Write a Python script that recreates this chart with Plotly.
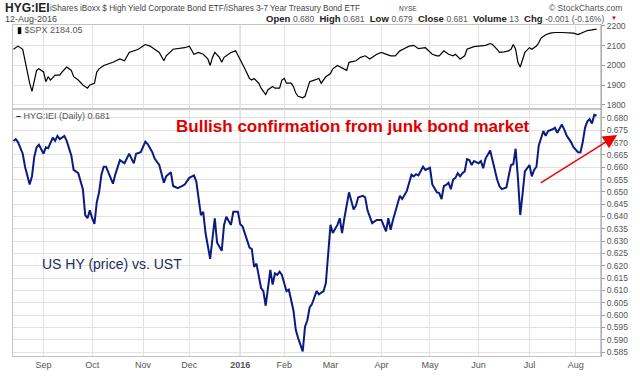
import plotly.graph_objects as go

# ---- data (trading-day index from 13-Aug-2015) ----
hyg_day = [0,1,2,4,5,7,8,9,10,11,13,14,15,17,18,19,20,22,23,25,26,28,30,31,32,33,34,35,36,37,38,39,40,43,44,46,48,50,51,52,53,55,57,58,60,61,63,65,66,68,69,71,73,74,76,78,79,80,81,82,83,85,87,88,90,91,92,94,95,97,98,99,102,103,104,105,107,108,109,110,111,112,113,114,115,116,118,119,120,121,122,123,125,126,127,128,129,131,132,134,135,136,137,138,140,141,142,143,145,147,148,149,151,152,153,155,157,159,161,162,163,164,165,167,168,170,172,173,174,175,177,178,180,181,183,184,185,186,187,188,189,190,191,192,193,194,195,196,197,198,199,201,202,203,204,206,207,209,210,211,213,214,215,216,217,218,219,220,221,223,224,225,226,227,228,229,230,231,233,234,235,236,237,238,239,241,242,244,245,246,247,248,249,250,251,252]
hyg_val = [0.6707,0.6714,0.6701,0.6655,0.6602,0.6530,0.6563,0.6642,0.6681,0.6691,0.6655,0.6681,0.6677,0.6720,0.6707,0.6727,0.6714,0.6727,0.6707,0.6648,0.6589,0.6576,0.6511,0.6406,0.6393,0.6425,0.6393,0.6370,0.6458,0.6498,0.6570,0.6602,0.6602,0.6533,0.6570,0.6629,0.6616,0.6655,0.6635,0.6616,0.6655,0.6661,0.6704,0.6694,0.6661,0.6635,0.6609,0.6537,0.6563,0.6580,0.6524,0.6515,0.6524,0.6530,0.6557,0.6567,0.6543,0.6478,0.6406,0.6419,0.6333,0.6228,0.6393,0.6294,0.6261,0.6366,0.6399,0.6366,0.6419,0.6419,0.6369,0.6360,0.6274,0.6268,0.6196,0.6209,0.6110,0.6097,0.6038,0.6110,0.6183,0.6124,0.6169,0.6163,0.6176,0.6163,0.6097,0.6103,0.6065,0.6019,0.5940,0.5907,0.5853,0.5953,0.5979,0.6031,0.6045,0.6097,0.6084,0.6097,0.6130,0.6242,0.6366,0.6333,0.6366,0.6393,0.6333,0.6393,0.6498,0.6428,0.6445,0.6478,0.6484,0.6478,0.6425,0.6373,0.6386,0.6386,0.6340,0.6393,0.6346,0.6386,0.6419,0.6484,0.6471,0.6504,0.6570,0.6563,0.6572,0.6567,0.6602,0.6589,0.6598,0.6530,0.6498,0.6495,0.6471,0.6524,0.6528,0.6537,0.6511,0.6550,0.6557,0.6576,0.6563,0.6576,0.6583,0.6633,0.6629,0.6609,0.6625,0.6616,0.6625,0.6596,0.6635,0.6668,0.6629,0.6550,0.6524,0.6511,0.6518,0.6563,0.6609,0.6612,0.6675,0.6557,0.6406,0.6491,0.6583,0.6609,0.6563,0.6589,0.6602,0.6688,0.6714,0.6747,0.6727,0.6747,0.6754,0.6760,0.6740,0.6754,0.6773,0.6754,0.6730,0.6701,0.6681,0.6661,0.6660,0.6701,0.6760,0.6786,0.6795,0.6777,0.6813,0.6810]

spx_day = [0,2,4,5,6,7,8,9,10,11,13,14,15,16,18,20,21,23,25,26,28,30,32,33,35,36,37,39,41,43,46,48,50,52,54,56,57,59,61,63,65,66,69,71,74,76,78,80,82,84,85,86,87,89,90,91,93,94,96,97,99,100,102,103,104,106,107,109,110,112,113,115,116,117,118,120,121,122,123,125,126,127,128,130,132,133,135,137,138,140,143,144,145,148,150,152,154,155,157,159,161,163,165,167,169,171,173,175,178,180,181,183,184,186,188,190,191,193,195,196,199,201,204,206,207,209,210,212,214,215,216,217,218,219,220,221,223,224,226,227,228,230,232,234,237,240,242,244,246,248,250,252]
spx_val = [2082,2098,2082,2024,1967,1910,1869,1926,1975,1983,1967,1918,1943,1926,1951,1951,1967,1992,1975,1943,1926,1901,1885,1901,1910,1967,1983,2000,2008,2016,2033,2024,2066,2074,2082,2098,2106,2098,2082,2066,2024,2049,2082,2085,2090,2098,2057,2066,2057,2033,2000,2041,2066,2041,2016,2041,2057,2066,2074,2049,2000,1983,1934,1926,1934,1910,1885,1852,1877,1893,1885,1885,1926,1934,1910,1910,1893,1860,1844,1836,1844,1885,1918,1926,1934,1910,1943,1959,1983,2000,1983,1975,2016,2024,2041,2049,2033,2041,2057,2066,2057,2049,2049,2074,2086,2098,2102,2085,2090,2066,2057,2049,2049,2074,2057,2049,2057,2033,2049,2082,2095,2098,2102,2111,2106,2082,2066,2069,2074,2082,2106,2082,2016,1992,2024,2066,2090,2082,2098,2115,2139,2156,2164,2167,2167,2167,2164,2156,2167,2177,2180,2184]

month_day = [13, 34, 56, 76, 98, 117, 137, 159, 180, 201, 223, 243]
month_lbl = ["Sep", "Oct", "Nov", "Dec", "<b>2016</b>", "Feb", "Mar", "Apr", "May", "Jun", "Jul", "Aug"]
spx_ticks = [1800, 1900, 2000, 2100, 2200]

# ---- layout helpers (pixel -> paper) ----
L, R, T, B = 12, 602, 25, 366
def px(x):
    return (x - L) / (R - L)
def py(y):
    return (B - y) / (B - T)

FONT = "Arial, Liberation Sans, sans-serif"
GRID = "#e2e2e2"
XR = [-0.2, 253.9]

fig = go.Figure()
fig.add_trace(go.Scatter(x=spx_day, y=spx_val, mode="lines", xaxis="x", yaxis="y",
                         line=dict(color="#000000", width=1.2), hoverinfo="skip"))
fig.add_trace(go.Scatter(x=hyg_day, y=hyg_val, mode="lines", xaxis="x2", yaxis="y2",
                         line=dict(color="#0d1a80", width=2), hoverinfo="skip"))

axis_common = dict(showgrid=True, gridcolor=GRID, gridwidth=1, zeroline=False,
                   showline=True, linecolor="#c4c4c4", mirror=True)
TICKFONT = dict(family=FONT, size=8.5, color="#555")

fig.update_layout(
    width=640, height=382,
    margin=dict(l=L, r=640 - R, t=T, b=382 - B),
    paper_bgcolor="white", plot_bgcolor="white",
    showlegend=False,
    font=dict(family=FONT, size=10, color="#555"),
    xaxis=dict(domain=[0, 1], anchor="y", range=XR, tickvals=month_day, showticklabels=False,
               ticks="", **axis_common),
    yaxis=dict(domain=[0.746, 1], anchor="x", range=[1779, 2205], side="right",
               tickvals=spx_ticks, ticks="outside", ticklen=3, tickcolor="#999",
               tickfont=TICKFONT, **axis_common),
    xaxis2=dict(domain=[0, 1], anchor="y2", range=XR, tickvals=month_day, ticktext=month_lbl,
                ticks="", tickfont=dict(family=FONT, size=9, color="#555"), **axis_common),
    yaxis2=dict(domain=[0, 0.746], anchor="x2", range=[0.5834, 0.6836], side="right",
                dtick=0.005, tick0=0.585, tickformat=".3f", ticks="outside", ticklen=3,
                tickcolor="#999", tickfont=TICKFONT, **axis_common),
)

# darker year line
fig.add_shape(type="line", xref="x", yref="paper", x0=98, x1=98, y0=0, y1=1,
              line=dict(color="#a8a8a8", width=1), layer="below")
# right axis line darker
fig.add_shape(type="line", xref="paper", yref="paper", x0=1, x1=1, y0=0, y1=1,
              line=dict(color="#9a9a9a", width=1))

ann = []
def text(x, y, s, size=10, color="#555", anchor="left", **kw):
    ann.append(dict(xref="paper", yref="paper", x=px(x), y=py(y), text=s, showarrow=False,
                    xanchor=anchor, yanchor="middle", font=dict(family=FONT, size=size, color=color), **kw))

V = "<span style='font-size:8.5px;font-weight:normal;color:#555'>%s</span>"
# header
text(2, 7.5, "<b>HYG:IEI</b>", size=12, color="#222")
text(47, 8, "iShares iBoxx $ High Yield Corporate Bond ETF/iShares 3-7 Year Treasury Bond ETF", size=8.2, color="#444")
text(397, 8.5, "NYSE", size=6.5, color="#444")
text(625, 8, "© StockCharts.com", size=8.5, color="#555", anchor="right")
text(2, 18.5, "12-Aug-2016", size=9, color="#444")
text(607, 18.5, "<b>Open</b> " + V % "0.680" + "  <b>High</b> " + V % "0.681" + "  <b>Low</b> " + V % "0.679"
              + "  <b>Close</b> " + V % "0.681" + "  <b>Volume</b> " + V % "13" + "  <b>Chg</b> " + V % "-0.001 (-0.16%)",
     size=9.5, color="#222", anchor="right")
text(610, 17.5, "▼", size=6, color="#cc0000")

# panel legends
text(14, 30.5, "<span style='color:#000'>▮</span> $SPX 2184.05", size=9, color="#555")
text(13, 118.5, "<span style='color:#0d1a80'><b>–</b></span> HYG:IEI (Daily) 0.681", size=9, color="#555")

# commentary
text(353, 129.5, "<b>Bullish confirmation from junk bond market</b>", size=17, color="#e00000", anchor="center")
text(111.5, 271.5, "US HY (price) vs. UST", size=14, color="#1c2b5a", anchor="center")

# arrow
ann.append(dict(xref="x2", yref="y2", x=260.9, y=0.6731, axref="x2", ayref="y2",
                ax=227.2, ay=0.6533, showarrow=True, arrowhead=2, arrowsize=2,
                arrowwidth=1.4, arrowcolor="#ee0000", text=""))

fig.update_layout(annotations=ann)
fig.write_html("out.html", config={"displayModeBar": False},
               post_script="document.body.style.margin='0px';")
